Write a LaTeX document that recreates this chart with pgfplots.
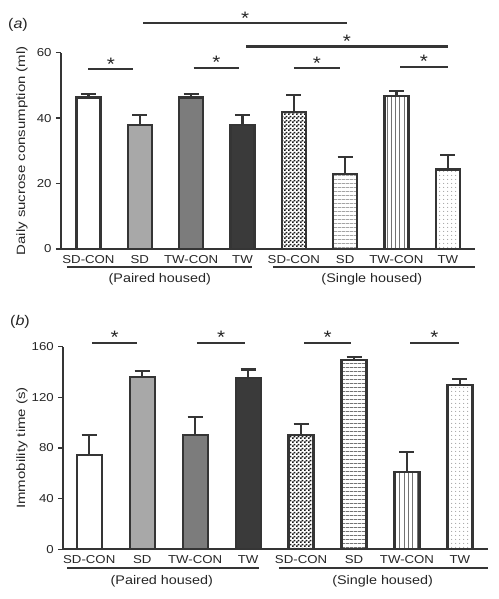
\documentclass[border=0pt]{standalone}
\usepackage{pgfplots}
\pgfplotsset{compat=1.18}
\usetikzlibrary{patterns,patterns.meta}
\usepackage{fontspec}
\setmainfont{Liberation Sans}[FakeStretch=1.15]
\newfontfamily\ylabfont{Liberation Sans}[FakeStretch=1.25]
\definecolor{edge}{HTML}{353535}
\definecolor{gA}{HTML}{A8A8A8}
\definecolor{gB}{HTML}{7C7C7C}
\definecolor{gC}{HTML}{3A3A3A}
\pgfdeclarepatternformonly{finecheck}{\pgfpointorigin}{\pgfqpoint{4pt}{4pt}}{\pgfqpoint{4pt}{4pt}}{%
  \pgfpathrectangle{\pgfpointorigin}{\pgfqpoint{2pt}{2pt}}%
  \pgfpathrectangle{\pgfqpoint{2pt}{2pt}}{\pgfqpoint{2pt}{2pt}}%
  \pgfusepath{fill}}
\pgfplotsset{
  common/.style={
    scale only axis, anchor=south west, clip=false,
    axis x line*=bottom, axis y line*=left,
    axis line style={draw=edge, line width=1.8pt},
    every tick/.style={draw=edge, line width=1.5pt},
    tick align=outside, major tick length=5pt,
    /pgf/number format/assume math mode=true,
    xtick={0,...,7},
    xticklabels={SD-CON,SD,TW-CON,TW,SD-CON,SD,TW-CON,TW},
    major x tick style={draw=none},
    tick label style={font=\fontsize{11.5}{12}\selectfont, text=black!85},
    xticklabel style={yshift=2pt},
    yticklabel style={xshift=-1pt},
    ymin=0,
  },
  bb/.style={ybar, bar shift=0pt, draw=edge, line width=2.2pt,
    error bars/y dir=plus, error bars/y explicit,
    error bars/error bar style={line width=2.2pt, draw=edge},
    error bars/error mark options={rotate=90, mark size=7.5pt, line width=2.2pt, draw=edge}},
  s0/.style={fill=white},
  s1/.style={fill=gA},
  s2/.style={fill=gB},
  s3/.style={fill=gC},
  s4/.style={pattern=finecheck, pattern color=black!90},
  s5/.style={pattern={Lines[angle=0,distance=4pt,line width=0.9pt]}, pattern color=black!55},
  s6/.style={pattern={Lines[angle=90,distance=4.3pt,line width=0.9pt]}, pattern color=black!55},
  s7/.style={pattern={Dots[distance=4pt,radius=0.6pt]}, pattern color=black!50},
}
\newcommand{\sig}[3]{%
  \draw[edge, line width=2.2pt] (axis cs:#1,#3) -- (axis cs:#2,#3);
  \node[anchor=base, inner sep=0pt, text=black!85, font=\fontsize{18}{18}\selectfont] at ([yshift=-1pt]axis cs:{(#1+#2)/2},#3) {*};}
\begin{document}
\begin{tikzpicture}
\useasboundingbox (0,0) rectangle (498pt,599pt);
\node[font=\fontsize{14}{15}\selectfont, text=black!85] at (18pt,574pt) {(\textit{a})};
\node[font=\fontsize{14}{15}\selectfont, text=black!85] at (20pt,277pt) {(\textit{b})};
% ---------------- panel a
\begin{axis}[common, at={(61pt,350pt)}, width=414pt, height=196.3pt,
  xmin=-0.535, xmax=7.53, ymax=60, ytick={0,20,40,60},
  ylabel={Daily sucrose consumption (ml)},
  every axis y label/.style={at={(axis description cs:-0.0942,0.5)}, rotate=90, anchor=center, text=black!85, font=\ylabfont\fontsize{12}{14}\selectfont}]
\addplot[bb, s0, bar width=24pt] coordinates {(0,46.3) +- (0,1.0)};
\addplot[bb, s1, bar width=24pt] coordinates {(1,38.0) +- (0,2.9)};
\addplot[bb, s2, bar width=24pt] coordinates {(2,46.3) +- (0,1.0)};
\addplot[bb, s3, bar width=24pt] coordinates {(3,38.0) +- (0,2.9)};
\addplot[bb, s4, bar width=24pt] coordinates {(4,41.8) +- (0,5.3)};
\addplot[bb, s5, bar width=24pt] coordinates {(5,22.9) +- (0,5.1)};
\addplot[bb, s6, bar width=24pt] coordinates {(6,46.7) +- (0,1.7)};
\addplot[bb, s7, bar width=24pt] coordinates {(7,24.3) +- (0,4.5)};
\sig{0.0}{0.87}{55.0}
\sig{2.05}{2.93}{55.4}
\sig{4.0}{4.9}{55.2}
\sig{6.07}{7.0}{55.7}
\sig{1.07}{5.03}{69.0}
\sig{3.07}{7.0}{61.9}
\draw[edge, line width=2.2pt] ([yshift=-18pt]axis cs:-0.42,0) -- ([yshift=-18pt]axis cs:3.18,0);
\draw[edge, line width=2.2pt] ([yshift=-18pt]axis cs:3.59,0) -- ([yshift=-18pt]axis cs:7.53,0);
\node[font=\fontsize{12.5}{14}\selectfont, text=black!85] at ([yshift=-30pt]axis cs:1.39,0) {(Paired housed)};
\node[font=\fontsize{12.5}{14}\selectfont, text=black!85] at ([yshift=-30pt]axis cs:5.52,0) {(Single housed)};
\end{axis}
% ---------------- panel b
\begin{axis}[common, at={(63.3pt,49.7pt)}, width=424.7pt, height=202.7pt,
  xmin=-0.49, xmax=7.53, ymax=160, ytick={0,40,80,120,160},
  ylabel={Immobility time (s)},
  every axis y label/.style={at={(axis description cs:-0.0972,0.5)}, rotate=90, anchor=center, text=black!85, font=\ylabfont\fontsize{12}{14}\selectfont}]
\addplot[bb, s0, bar width=25pt] coordinates {(0,74.2) +- (0,15.8)};
\addplot[bb, s1, bar width=25pt] coordinates {(1,136.0) +- (0,4.5)};
\addplot[bb, s2, bar width=25pt] coordinates {(2,90.0) +- (0,14.7)};
\addplot[bb, s3, bar width=25pt] coordinates {(3,135.0) +- (0,7.0)};
\addplot[bb, s4, bar width=25pt] coordinates {(4,90.0) +- (0,8.7)};
\addplot[bb, s5, bar width=25pt] coordinates {(5,149.7) +- (0,1.9)};
\addplot[bb, s6, bar width=25pt] coordinates {(6,61.0) +- (0,15.6)};
\addplot[bb, s7, bar width=25pt] coordinates {(7,129.4) +- (0,5.3)};
\sig{0.05}{0.91}{163}
\sig{2.03}{2.95}{163}
\sig{4.06}{4.94}{163}
\sig{6.06}{6.98}{163}
\draw[edge, line width=2.2pt] ([yshift=-18.4pt]axis cs:-0.42,0) -- ([yshift=-18.4pt]axis cs:3.2,0);
\draw[edge, line width=2.2pt] ([yshift=-18.4pt]axis cs:3.58,0) -- ([yshift=-18.4pt]axis cs:7.53,0);
\node[font=\fontsize{12.5}{14}\selectfont, text=black!85] at ([yshift=-31.7pt]axis cs:1.37,0) {(Paired housed)};
\node[font=\fontsize{12.5}{14}\selectfont, text=black!85] at ([yshift=-31.7pt]axis cs:5.54,0) {(Single housed)};
\end{axis}
\end{tikzpicture}
\end{document}
